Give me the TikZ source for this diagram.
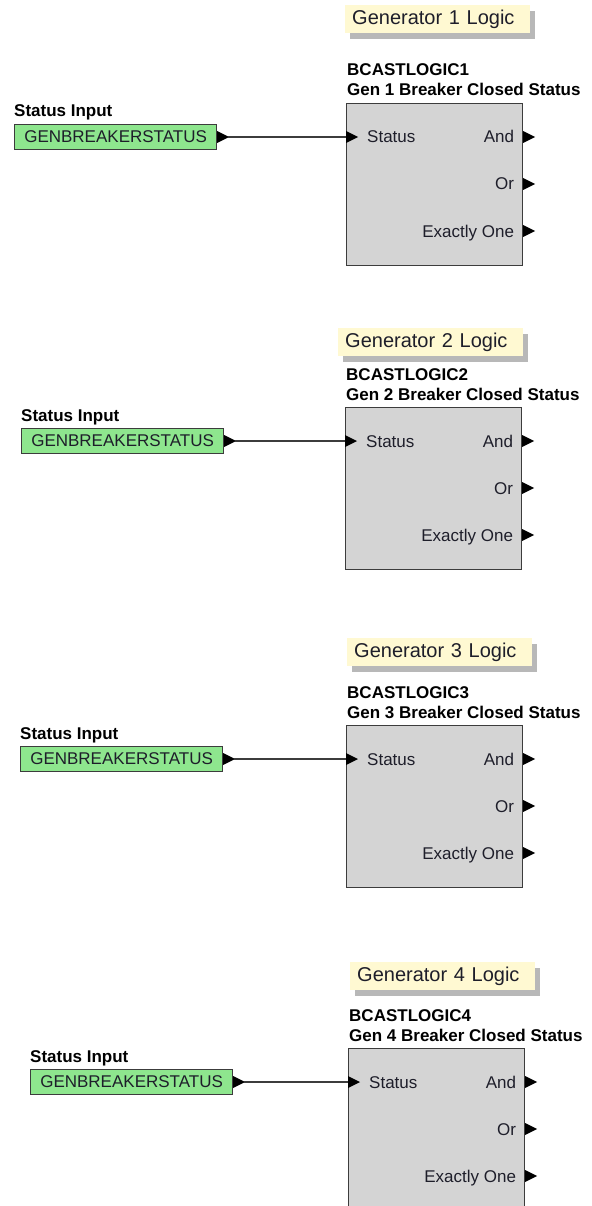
\documentclass[tikz,border=0pt]{standalone}
\usepackage{fontspec}
\setmainfont{Liberation Sans}
\usetikzlibrary{calc,shadows}

\definecolor{inputgreen}{HTML}{8EE68E}
\definecolor{blockgray}{HTML}{D4D4D4}
\definecolor{noteyellow}{HTML}{FFF9D2}
\definecolor{edgegray}{HTML}{3C3C3C}
\definecolor{labelink}{HTML}{1E1E2A}

\tikzset{
  inputbox/.style={draw=edgegray, line width=1.2pt, fill=inputgreen, minimum width=202pt, minimum height=25pt, inner sep=0pt, text=labelink, font=\fontsize{17}{20}\selectfont},
  logicbox/.style={draw=edgegray, line width=1.2pt, fill=blockgray, minimum width=176pt, minimum height=162pt, inner sep=0pt},
  notebox/.style={fill=noteyellow, text width=171pt, inner xsep=7pt, inner ysep=0pt, minimum height=28pt, align=left, text=labelink, font=\fontsize{20}{24}\selectfont, drop shadow={shadow xshift=5pt, shadow yshift=-6pt, fill=black!28, opacity=1}},
  boldlabel/.style={inner sep=0pt, anchor=base west, font=\bfseries\fontsize{17}{20}\selectfont},
  portlabel/.style={inner sep=0pt, text=labelink, font=\fontsize{17}{20}\selectfont},
  wire/.style={draw=edgegray, line width=1.3pt},
}
\def\porttip#1{\fill[black] (#1) -- ++(0,-6) -- ++(12,6) -- ++(-12,6) -- cycle;}

\begin{document}
\begin{tikzpicture}[x=1pt, y=-1pt]
		%%%%% START %%%%%
		\useasboundingbox (0,0) rectangle (591,1206);
		\clip (0,0) rectangle (591,1206);
		\fill[white] (0,0) rectangle (591,1206);
		
		%%%%% GENERATOR 1 %%%%%
		\node[notebox, anchor=north west] (note1) at (345,5) {Generator 1 Logic};
		\node[boldlabel] (name1) at (347,76) {BCASTLOGIC1};
		\node[boldlabel] (desc1) at (347,96) {Gen 1 Breaker Closed Status};
		\node[logicbox, anchor=north west] (gen1) at (346,103) {};
		\node[boldlabel] (lab1) at (14,117) {Status Input};
		\node[inputbox, anchor=west] (in1) at (14,137) {GENBREAKERSTATUS};
		\porttip{in1.east}
		\draw[wire] ($(in1.east)+(11,0)$) -- (gen1.west |- in1.east);
		\porttip{gen1.west |- in1.east}
		\node[portlabel, anchor=base west] (st1) at ($(gen1.north west)+(21,40)$) {Status};
		\node[portlabel, anchor=base east] (and1) at ($(gen1.north east)+(-9,40)$) {And};
		\node[portlabel, anchor=base east] (or1) at ($(gen1.north east)+(-9,87)$) {Or};
		\node[portlabel, anchor=base east] (one1) at ($(gen1.north east)+(-9,134)$) {Exactly One};
		\porttip{$(gen1.north east)+(0,34)$}
		\porttip{$(gen1.north east)+(0,81)$}
		\porttip{$(gen1.north east)+(0,128)$}
		
		%%%%% GENERATOR 2 %%%%%
		\node[notebox, anchor=north west] (note2) at (338,328) {Generator 2 Logic};
		\node[boldlabel] (name2) at (346,380) {BCASTLOGIC2};
		\node[boldlabel] (desc2) at (346,400) {Gen 2 Breaker Closed Status};
		\node[logicbox, anchor=north west] (gen2) at (345,407) {};
		\node[boldlabel] (lab2) at (21,421) {Status Input};
		\node[inputbox, anchor=west] (in2) at (21,441) {GENBREAKERSTATUS};
		\porttip{in2.east}
		\draw[wire] ($(in2.east)+(11,0)$) -- (gen2.west |- in2.east);
		\porttip{gen2.west |- in2.east}
		\node[portlabel, anchor=base west] (st2) at ($(gen2.north west)+(21,40)$) {Status};
		\node[portlabel, anchor=base east] (and2) at ($(gen2.north east)+(-9,40)$) {And};
		\node[portlabel, anchor=base east] (or2) at ($(gen2.north east)+(-9,87)$) {Or};
		\node[portlabel, anchor=base east] (one2) at ($(gen2.north east)+(-9,134)$) {Exactly One};
		\porttip{$(gen2.north east)+(0,34)$}
		\porttip{$(gen2.north east)+(0,81)$}
		\porttip{$(gen2.north east)+(0,128)$}
		
		%%%%% GENERATOR 3 %%%%%
		\node[notebox, anchor=north west] (note3) at (347,638) {Generator 3 Logic};
		\node[boldlabel] (name3) at (347,698) {BCASTLOGIC3};
		\node[boldlabel] (desc3) at (347,718) {Gen 3 Breaker Closed Status};
		\node[logicbox, anchor=north west] (gen3) at (346,725) {};
		\node[boldlabel] (lab3) at (20,739) {Status Input};
		\node[inputbox, anchor=west] (in3) at (20,759) {GENBREAKERSTATUS};
		\porttip{in3.east}
		\draw[wire] ($(in3.east)+(11,0)$) -- (gen3.west |- in3.east);
		\porttip{gen3.west |- in3.east}
		\node[portlabel, anchor=base west] (st3) at ($(gen3.north west)+(21,40)$) {Status};
		\node[portlabel, anchor=base east] (and3) at ($(gen3.north east)+(-9,40)$) {And};
		\node[portlabel, anchor=base east] (or3) at ($(gen3.north east)+(-9,87)$) {Or};
		\node[portlabel, anchor=base east] (one3) at ($(gen3.north east)+(-9,134)$) {Exactly One};
		\porttip{$(gen3.north east)+(0,34)$}
		\porttip{$(gen3.north east)+(0,81)$}
		\porttip{$(gen3.north east)+(0,128)$}
		
		%%%%% GENERATOR 4 %%%%%
		\node[notebox, anchor=north west] (note4) at (350,962) {Generator 4 Logic};
		\node[boldlabel] (name4) at (349,1021) {BCASTLOGIC4};
		\node[boldlabel] (desc4) at (349,1041) {Gen 4 Breaker Closed Status};
		\node[logicbox, anchor=north west] (gen4) at (348,1048) {};
		\node[boldlabel] (lab4) at (30,1062) {Status Input};
		\node[inputbox, anchor=west] (in4) at (30,1082) {GENBREAKERSTATUS};
		\porttip{in4.east}
		\draw[wire] ($(in4.east)+(11,0)$) -- (gen4.west |- in4.east);
		\porttip{gen4.west |- in4.east}
		\node[portlabel, anchor=base west] (st4) at ($(gen4.north west)+(21,40)$) {Status};
		\node[portlabel, anchor=base east] (and4) at ($(gen4.north east)+(-9,40)$) {And};
		\node[portlabel, anchor=base east] (or4) at ($(gen4.north east)+(-9,87)$) {Or};
		\node[portlabel, anchor=base east] (one4) at ($(gen4.north east)+(-9,134)$) {Exactly One};
		\porttip{$(gen4.north east)+(0,34)$}
		\porttip{$(gen4.north east)+(0,81)$}
		\porttip{$(gen4.north east)+(0,128)$}
		
		%%%%% END %%%%%
	\end{tikzpicture}
\end{document}
